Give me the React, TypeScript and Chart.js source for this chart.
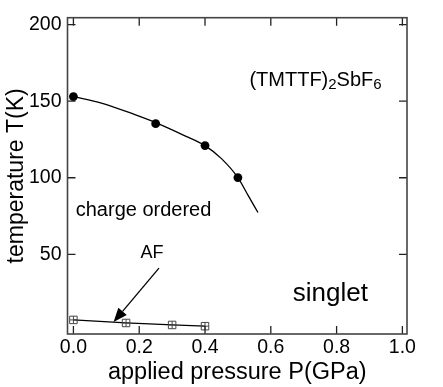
import { useEffect, useRef } from 'react';
import { Chart, registerables } from 'chart.js';
Chart.register(...registerables);

const FONT = "'Liberation Sans', Arial, Helvetica, sans-serif";

const xTicks = [0, 0.2, 0.4, 0.6, 0.8, 1.0];
const yTicks = [50, 100, 150, 200];

// charge-order transition (filled circles)
const coPressure = [0.0, 0.25, 0.4, 0.5];
const coTemp = [153, 135.3, 121, 100.1];

// guide curve
const fitPressure = [0, 0.085, 0.187, 0.25, 0.339, 0.4, 0.45, 0.5, 0.531, 0.561];
const fitTemp = [153, 148.8, 141.2, 136, 127.4, 121, 112.5, 100.1, 88.5, 77.3];

// AF / singlet transition (crossed squares)
const afPressure = [0.0, 0.16, 0.3, 0.4];
const afTemp = [7.2, 5.2, 3.9, 3.1];

// annotation anchors, in data units
const arrowFrom = [0.26, 41];
const arrowTo = [0.122, 5.8];

const pts = (xs: number[], ys: number[]) => xs.map((x, i) => ({ x, y: ys[i] }));

type Part = { text: string; size: number; dy: number };

function drawRich(ctx: CanvasRenderingContext2D, x: number, y: number, parts: Part[]) {
  let cx = x;
  for (const p of parts) {
    ctx.font = `${p.size}px ${FONT}`;
    ctx.fillText(p.text, cx, y + p.dy);
    cx += ctx.measureText(p.text).width;
  }
}

const framePlugin = {
  id: 'frame',
  afterDraw(chart: any) {
    const { ctx, chartArea: a, scales } = chart;
    const xs = scales.x;
    const ys = scales.y;
    ctx.save();
    // inward ticks
    ctx.strokeStyle = '#222';
    ctx.lineWidth = 1.3;
    const tl = 8;
    ctx.beginPath();
    for (const v of xTicks) {
      const px = xs.getPixelForValue(v);
      ctx.moveTo(px, a.bottom);
      ctx.lineTo(px, a.bottom - tl);
      ctx.moveTo(px, a.top);
      ctx.lineTo(px, a.top + tl);
    }
    for (const v of yTicks) {
      const py = ys.getPixelForValue(v);
      ctx.moveTo(a.left, py);
      ctx.lineTo(a.left + tl, py);
      ctx.moveTo(a.right, py);
      ctx.lineTo(a.right - tl, py);
    }
    ctx.stroke();
    // frame
    ctx.strokeStyle = '#444';
    ctx.lineWidth = 1.6;
    ctx.strokeRect(a.left, a.top, a.right - a.left, a.bottom - a.top);

    // arrow
    const x0 = xs.getPixelForValue(arrowFrom[0]);
    const y0 = ys.getPixelForValue(arrowFrom[1]);
    const x1 = xs.getPixelForValue(arrowTo[0]);
    const y1 = ys.getPixelForValue(arrowTo[1]);
    const ang = Math.atan2(y1 - y0, x1 - x0);
    const hl = 14;
    const hw = 5.5;
    const bx = x1 - hl * Math.cos(ang);
    const by = y1 - hl * Math.sin(ang);
    ctx.strokeStyle = '#000';
    ctx.lineWidth = 1.3;
    ctx.beginPath();
    ctx.moveTo(x0, y0);
    ctx.lineTo(bx, by);
    ctx.stroke();
    ctx.fillStyle = '#000';
    ctx.beginPath();
    ctx.moveTo(x1, y1);
    ctx.lineTo(bx - hw * Math.sin(ang), by + hw * Math.cos(ang));
    ctx.lineTo(bx + hw * Math.sin(ang), by - hw * Math.cos(ang));
    ctx.closePath();
    ctx.fill();

    // labels
    ctx.fillStyle = '#000';
    ctx.textBaseline = 'alphabetic';
    ctx.textAlign = 'left';
    drawRich(ctx, xs.getPixelForValue(0.535), ys.getPixelForValue(159.9), [
      { text: '(TMTTF)', size: 20, dy: 0 },
      { text: '2', size: 15, dy: 3 },
      { text: 'SbF', size: 20, dy: 0 },
      { text: '6', size: 15, dy: 3 },
    ]);
    ctx.font = `20px ${FONT}`;
    ctx.fillText('charge ordered', xs.getPixelForValue(0.007), ys.getPixelForValue(75.2));
    ctx.font = `26px ${FONT}`;
    ctx.fillText('singlet', xs.getPixelForValue(0.667), ys.getPixelForValue(19.3));
    ctx.font = `18px ${FONT}`;
    ctx.textAlign = 'center';
    ctx.fillText('AF', xs.getPixelForValue(0.239), ys.getPixelForValue(47.5));
    ctx.restore();
  },
};

export default function App() {
  const ref = useRef<HTMLCanvasElement | null>(null);
  useEffect(() => {
    document.body.style.margin = '0';
    const canvas = ref.current;
    if (!canvas) return;
    const chart = new Chart(canvas, {
      type: 'scatter',
      data: {
        datasets: [
          {
            data: pts(coPressure, coTemp),
            showLine: false,
            pointStyle: 'circle',
            pointRadius: 4.4,
            backgroundColor: '#000',
            borderColor: '#000',
            borderWidth: 0,
          },
          {
            data: pts(afPressure, afTemp),
            showLine: false,
            pointStyle: 'cross',
            pointRadius: 3.6,
            borderColor: '#444',
            pointBorderWidth: 1,
          },
          {
            data: pts(afPressure, afTemp),
            showLine: true,
            pointStyle: 'rect',
            pointRadius: 5.3,
            backgroundColor: 'rgba(0,0,0,0)',
            borderColor: '#000',
            borderWidth: 1.3,
            pointBorderColor: '#444',
            pointBorderWidth: 1,
          },
          {
            data: pts(fitPressure, fitTemp),
            showLine: true,
            cubicInterpolationMode: 'monotone',
            pointRadius: 0,
            borderColor: '#000',
            borderWidth: 1.3,
          },
        ],
      },
      options: {
        animation: false,
        responsive: true,
        maintainAspectRatio: false,
        layout: { padding: { left: 0, right: 36, top: 11, bottom: 0 } },
        plugins: { legend: { display: false }, tooltip: { enabled: false } },
        scales: {
          x: {
            type: 'linear',
            min: -0.018,
            max: 1.014,
            grid: { display: false, drawTicks: false },
            border: { display: false },
            afterBuildTicks: (s: any) => {
              s.ticks = xTicks.map((v) => ({ value: v }));
            },
            afterFit: (s: any) => {
              s.height = 53;
            },
            ticks: {
              padding: 2,
              color: '#000',
              autoSkip: false,
              maxRotation: 0,
              font: { family: FONT, size: 19.5 },
              callback: (v: any) => Number(v).toFixed(1),
            },
            title: {
              display: true,
              text: 'applied pressure P(GPa)',
              color: '#000',
              font: { family: FONT, size: 23.5 },
              padding: { top: 0, bottom: 0 },
            },
          },
          y: {
            type: 'linear',
            min: -2,
            max: 204.5,
            grid: { display: false, drawTicks: false },
            border: { display: false },
            afterBuildTicks: (s: any) => {
              s.ticks = yTicks.map((v) => ({ value: v }));
            },
            afterFit: (s: any) => {
              s.width = 67.5;
            },
            ticks: {
              padding: 6,
              color: '#000',
              autoSkip: false,
              font: { family: FONT, size: 19.5 },
              callback: (v: any) => String(v),
            },
            title: {
              display: true,
              text: 'temperature T(K)',
              color: '#000',
              font: { family: FONT, size: 23 },
              padding: { top: 3, bottom: 0 },
            },
          },
        },
      },
      plugins: [framePlugin],
    });
    return () => chart.destroy();
  }, []);
  return (
    <div style={{ position: 'fixed', left: 0, top: 0, width: 443, height: 387 }}>
      <canvas ref={ref} style={{ display: 'block' }} />
    </div>
  );
}
